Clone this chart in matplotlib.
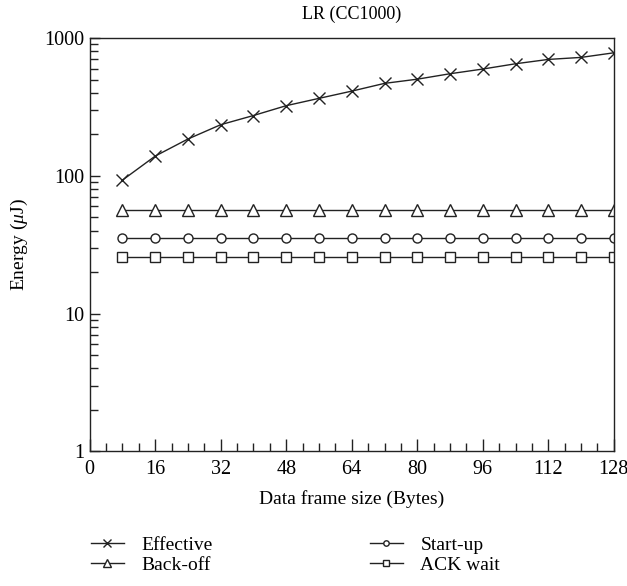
import matplotlib
matplotlib.use("Agg")
import matplotlib.pyplot as plt
from matplotlib.ticker import FixedLocator, MultipleLocator, LogLocator, NullFormatter

plt.rcParams["font.family"] = ["Liberation Serif", "DejaVu Serif"]
plt.rcParams["mathtext.fontset"] = "custom"
plt.rcParams["mathtext.it"] = "Liberation Serif:italic"
plt.rcParams["mathtext.rm"] = "Liberation Serif"

# ---------------------------------------
# Data
# ---------------------------------------
frame_size = [8, 16, 24, 32, 40, 48, 56, 64, 72, 80, 88, 96, 104, 112, 120, 128]

effective = [93, 139, 185, 235, 274, 323, 365, 412,
             469, 503, 551, 596, 651, 700, 724, 782]
back_off = [56.5] * 16
start_up = [35.5] * 16
ack_wait = [25.7] * 16

x_ticks = [0, 16, 32, 48, 64, 80, 96, 112, 128]
y_ticks = [1, 10, 100, 1000]

# ---------------------------------------
# Plot
# ---------------------------------------
fig = plt.figure(figsize=(6.27, 5.86), dpi=100)
ax = fig.add_axes([0.143, 0.230, 0.836, 0.705])

line_kw = dict(color="#222222", linewidth=1.0, markerfacecolor="white",
               markeredgecolor="#222222", markeredgewidth=1.0)

ax.plot(frame_size, effective, marker="x", markersize=9, label="Effective", **line_kw)
ax.plot(frame_size, start_up, marker="o", markersize=6.5, label="Start-up", **line_kw)
ax.plot(frame_size, back_off, marker="^", markersize=8.5, label="Back-off", **line_kw)
ax.plot(frame_size, ack_wait, marker="s", markersize=6.5, label="ACK wait", **line_kw)

ax.set_yscale("log")
ax.set_xlim(0, 128)
ax.set_ylim(1, 1000)

ax.xaxis.set_major_locator(FixedLocator(x_ticks))
ax.xaxis.set_minor_locator(MultipleLocator(4))
ax.yaxis.set_major_locator(FixedLocator(y_ticks))
ax.yaxis.set_minor_locator(LogLocator(base=10, subs=range(2, 10)))
ax.yaxis.set_minor_formatter(NullFormatter())
ax.set_yticklabels([str(v) for v in y_ticks])

ax.tick_params(axis="both", which="both", direction="in", top=False, right=False,
               labelsize=14.5, width=1.0, color="#222222")
ax.tick_params(axis="x", which="major", length=9, pad=6)
ax.tick_params(axis="x", which="minor", length=6)
ax.tick_params(axis="y", which="major", length=7, pad=4)
ax.tick_params(axis="y", which="minor", length=6)

for spine in ax.spines.values():
    spine.set_linewidth(1.0)
    spine.set_color("#222222")

ax.set_title("LR (CC1000)", fontsize=13, pad=14)
ax.set_xlabel("Data frame size (Bytes)", fontsize=14, labelpad=8)
ax.set_ylabel("Energy ($\\mu$J)", fontsize=14, labelpad=10)

handles, labels = ax.get_legend_handles_labels()
order = [0, 2, 1, 3]
fig.legend([handles[i] for i in order], [labels[i] for i in order],
           loc="upper left", bbox_to_anchor=(0.132, 0.098), ncol=2,
           frameon=False, fontsize=14, handlelength=1.7, handletextpad=0.9,
           markerscale=0.6, columnspacing=8.1, labelspacing=0.12,
           borderaxespad=0)

fig.savefig("out.png", dpi=100)
